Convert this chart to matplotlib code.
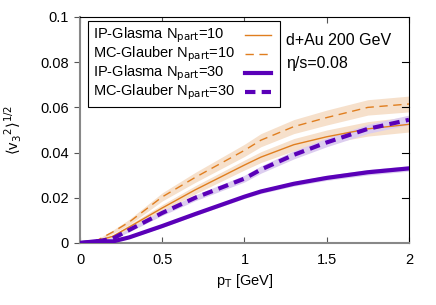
import matplotlib
matplotlib.use("Agg")
import matplotlib.pyplot as plt
from matplotlib.patches import Rectangle
import numpy as np

plt.rcParams['font.family'] = ['Liberation Sans', 'DejaVu Sans']

# p_T grid for the curves
pt = [0.0, 0.1, 0.2, 0.3, 0.5, 0.7, 1.0, 1.1, 1.3, 1.5, 1.75, 2.0]

# IP-Glasma Npart=10 (thin solid orange)
ipg10 = [0.0, 0.0008, 0.003, 0.0071, 0.0155, 0.0235, 0.0345, 0.038, 0.0435, 0.047, 0.0505, 0.0525]
ipg10_err = [0.0, 0.0003, 0.0006, 0.0010, 0.0015, 0.0018, 0.0022, 0.0024, 0.0027, 0.0030, 0.0032, 0.0034]
# MC-Glauber Npart=10 (thin dashed orange)
mcg10 = [0.0, 0.0010, 0.0049, 0.0093, 0.0204, 0.029, 0.041, 0.0455, 0.0515, 0.0555, 0.0600, 0.0615]
mcg10_err = [0.0, 0.0004, 0.0008, 0.0012, 0.0018, 0.0022, 0.0027, 0.0029, 0.0031, 0.0033, 0.0034, 0.0035]
# IP-Glasma Npart=30 (thick solid purple)
ipg30 = [0.0, 0.0008, 0.0007, 0.0025, 0.0075, 0.0128, 0.0205, 0.0228, 0.0262, 0.0288, 0.0313, 0.0330]
ipg30_err = [0.0, 0.0002, 0.0003, 0.0004, 0.0006, 0.0007, 0.0008, 0.0009, 0.0010, 0.0011, 0.0012, 0.0012]
# MC-Glauber Npart=30 (thick dashed purple)
mcg30 = [0.0, 0.0006, 0.0020, 0.0058, 0.0133, 0.020, 0.0285, 0.0325, 0.039, 0.0445, 0.0505, 0.0545]
mcg30_err = [0.0, 0.0003, 0.0005, 0.0008, 0.0011, 0.0013, 0.0015, 0.0016, 0.0018, 0.0019, 0.0020, 0.0021]

labels = ["IP-Glasma N$_{\\rm part}$=10", "MC-Glauber N$_{\\rm part}$=10",
          "IP-Glasma N$_{\\rm part}$=30", "MC-Glauber N$_{\\rm part}$=30"]

orange = "#e07e1f"
purple = "#5a00b8"
orange_band = "#f6e0cb"
purple_band = "#dccdef"

fig = plt.figure(figsize=(4.36, 3.05), dpi=100)
ax = fig.add_axes([0.1835, 0.2033, 0.7545, 0.741])

def band(y, e, c):
    y = np.array(y)
    e = np.array(e)
    ax.fill_between(pt, y - e, y + e, color=c, lw=0, zorder=1)

band(mcg10, mcg10_err, orange_band)
band(ipg10, ipg10_err, orange_band)
band(mcg30, mcg30_err, purple_band)
band(ipg30, ipg30_err, purple_band)

styles = [dict(color=orange, lw=1.0),
          dict(color=orange, lw=1.0, dashes=(6, 4)),
          dict(color=purple, lw=3.0),
          dict(color=purple, lw=3.0, dashes=(2.5, 1.5))]
for y, st in zip([ipg10, mcg10, ipg30, mcg30], styles):
    ax.plot(pt, y, zorder=3, **st)

ax.set_xlim(0, 2)
ax.set_ylim(0, 0.1)
ax.set_xticks([0, 0.5, 1, 1.5, 2])
ax.set_xticklabels(["0", "0.5", "1", "1.5", "2"])
ax.set_yticks([0, 0.02, 0.04, 0.06, 0.08, 0.1])
ax.set_yticklabels(["0", "0.02", "0.04", "0.06", "0.08", "0.1"])
ax.tick_params(axis='x', direction='in', length=4, labelsize=10.5, pad=7,
               top=True, color='#555555')
ax.tick_params(axis='y', direction='out', length=4, labelsize=10.5, pad=4,
               color='#555555')
ax.tick_params(which='both', right=False)
for side in ['left', 'bottom']:
    ax.spines[side].set_color('#888888')
    ax.spines[side].set_linewidth(1.5)
for side in ['top', 'right']:
    ax.spines[side].set_color('black')
    ax.spines[side].set_linewidth(0.8)
# inner ticks on the right side
for yv in [0.02, 0.04, 0.06, 0.08]:
    ax.plot([1.96, 2.0], [yv, yv], color='black', lw=0.8, clip_on=False, zorder=4)

ax.set_xlabel("p$_{\\rm T}$ [GeV]", fontsize=10.5, labelpad=4)
ax.set_ylabel("$\\langle$v$_3$$^2$$\\rangle$$^{1/2}$", fontsize=10.5, labelpad=12)

# legend drawn by hand: text left, sample line right
ax.add_patch(Rectangle((0.0486, 0.060), 1.167, 0.0382, fill=True, fc='white',
                       ec='black', lw=0.8, zorder=5))
rows = [0.0920, 0.0836, 0.0752, 0.0668]
for yr, lab, st in zip(rows, labels, styles):
    ax.text(0.079, yr, lab, fontsize=10.5, ha='left', va='center', zorder=6)
    ax.plot([1.003, 1.161], [yr, yr], zorder=6, **st)

ax.text(1.252, 0.0898, "d+Au 200 GeV", fontsize=11.5, ha='left', va='center')
ax.text(1.252, 0.0796, "η/s=0.08", fontsize=11.5, ha='left', va='center')

fig.savefig("out.png", dpi=100)
